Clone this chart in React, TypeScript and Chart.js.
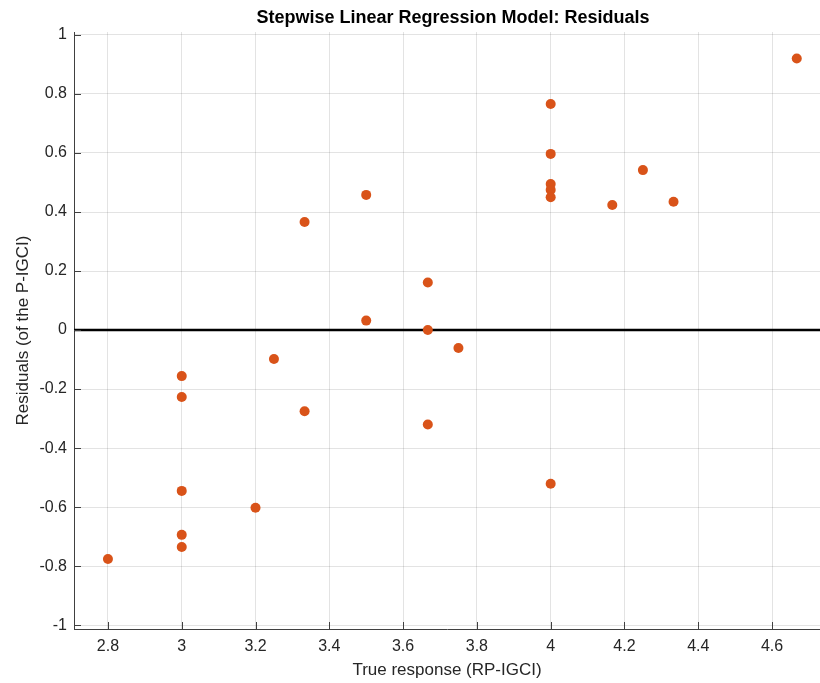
import React, { useEffect, useRef } from 'react';
import { Chart, registerables } from 'chart.js';

Chart.register(...registerables);

const trueResponse = [2.8, 3, 3, 3, 3, 3, 3.2, 3.25, 3.333, 3.333, 3.5, 3.5, 3.667, 3.667, 3.667, 3.75, 4, 4, 4, 4, 4, 4, 4.167, 4.25, 4.333, 4.667];
const residuals = [-0.776, -0.156, -0.227, -0.545, -0.694, -0.735, -0.602, -0.098, -0.275, 0.366, 0.458, 0.032, 0.161, 0.0, -0.32, -0.061, 0.766, 0.597, 0.495, 0.475, 0.45, -0.521, 0.424, 0.542, 0.435, 0.92];
const xTicks = [2.8, 3, 3.2, 3.4, 3.6, 3.8, 4, 4.2, 4.4, 4.6];
const yTicks = [-1, -0.8, -0.6, -0.4, -0.2, 0, 0.2, 0.4, 0.6, 0.8, 1];
const titleText = 'Stepwise Linear Regression Model: Residuals';
const xTitle = 'True response (RP-IGCI)';
const yTitle = 'Residuals (of the P-IGCI)';

const FONT = '"Liberation Sans", Arial, Helvetica, sans-serif';
const fmt = (v: number) => String(parseFloat(v.toFixed(1)));

const refPlugin = {
  id: 'refPlugin',
  beforeDatasetsDraw(chart: any) {
    const { ctx, chartArea, scales } = chart;
    const y0 = scales.y.getPixelForValue(0);
    ctx.save();
    ctx.strokeStyle = '#000000';
    ctx.lineWidth = 2.5;
    ctx.beginPath();
    ctx.moveTo(chartArea.left, y0);
    ctx.lineTo(chartArea.right, y0);
    ctx.stroke();
    ctx.restore();
  },
  afterDraw(chart: any) {
    const { ctx, chartArea, scales } = chart;
    ctx.save();
    ctx.strokeStyle = '#404040';
    ctx.lineWidth = 1;
    ctx.beginPath();
    for (const v of xTicks) {
      const px = Math.round(scales.x.getPixelForValue(v)) + 0.5;
      ctx.moveTo(px, chartArea.bottom);
      ctx.lineTo(px, chartArea.bottom - 7);
    }
    for (const v of yTicks) {
      const py = Math.round(scales.y.getPixelForValue(v)) + 0.5;
      ctx.moveTo(chartArea.left, py);
      ctx.lineTo(chartArea.left + 7, py);
    }
    ctx.stroke();
    ctx.fillStyle = '#000000';
    ctx.font = `bold 18px ${FONT}`;
    ctx.textAlign = 'center';
    ctx.textBaseline = 'middle';
    ctx.fillText(titleText, (chartArea.left + chartArea.right) / 2 + 6, 18);
    ctx.restore();
  },
};

export default function App() {
  const ref = useRef<HTMLCanvasElement | null>(null);
  useEffect(() => {
    document.body.style.margin = '0';
    const canvas = ref.current;
    if (!canvas) return;
    const chart = new Chart(canvas, {
      type: 'scatter',
      data: {
        datasets: [
          {
            label: 'Residuals',
            data: trueResponse.map((x, i) => ({ x, y: residuals[i] })),
            backgroundColor: '#D95319',
            borderColor: '#D95319',
            pointRadius: 5,
            pointHoverRadius: 5,
            borderWidth: 0,
          },
        ],
      },
      options: {
        responsive: false,
        animation: false,
        layout: { autoPadding: false, padding: { top: 32, left: 0, right: 0, bottom: 0 } },
        plugins: {
          legend: { display: false },
          title: { display: false },
          tooltip: { enabled: false },
        },
        scales: {
          x: {
            type: 'linear',
            min: 2.708,
            max: 4.73,
            afterBuildTicks: (s: any) => {
              s.ticks = xTicks.map((v) => ({ value: v }));
            },
            afterFit: (s: any) => {
              s.height = 54;
              s.paddingLeft = 0;
              s.paddingRight = 0;
              s.paddingTop = 0;
              s.paddingBottom = 0;
            },
            ticks: {
              callback: (v: any) => fmt(Number(v)),
              color: '#262626',
              font: { family: FONT, size: 16 },
              padding: 8,
              maxRotation: 0,
              autoSkip: false,
            },
            grid: { color: 'rgba(38,38,38,0.13)', drawTicks: false, lineWidth: 1 },
            border: { display: true, color: '#404040', width: 1 },
            title: {
              display: true,
              text: xTitle,
              color: '#262626',
              font: { family: FONT, size: 17 },
              padding: { top: 0, bottom: 2 },
            },
          },
          y: {
            type: 'linear',
            min: -1.013,
            max: 1.01,
            afterBuildTicks: (s: any) => {
              s.ticks = yTicks.map((v) => ({ value: v }));
            },
            afterFit: (s: any) => {
              s.width = 74;
              s.paddingLeft = 0;
              s.paddingRight = 0;
              s.paddingTop = 0;
              s.paddingBottom = 0;
            },
            ticks: {
              callback: (v: any) => fmt(Number(v)),
              color: '#262626',
              font: { family: FONT, size: 16 },
              padding: 7,
              autoSkip: false,
            },
            grid: { color: 'rgba(38,38,38,0.13)', drawTicks: false, lineWidth: 1 },
            border: { display: true, color: '#404040', width: 1 },
            title: {
              display: true,
              text: yTitle,
              color: '#262626',
              font: { family: FONT, size: 17 },
              padding: { top: 13, bottom: 0 },
            },
          },
        },
      },
      plugins: [refPlugin],
    });
    return () => chart.destroy();
  }, []);
  return (
    <div style={{ position: 'absolute', left: 0, top: 0, width: 820, height: 683 }}>
      <canvas ref={ref} width={820} height={683} />
    </div>
  );
}
